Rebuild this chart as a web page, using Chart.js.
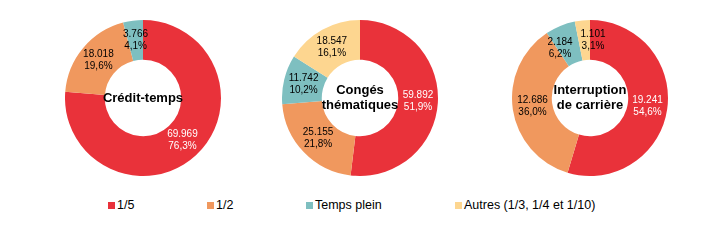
<!DOCTYPE html>
<html>
<head>
<meta charset="utf-8">
<script src="https://cdn.jsdelivr.net/npm/chart.js@4/dist/chart.umd.min.js"></script>
<style>
  html, body { margin: 0; padding: 0; background: #fff; }
  #wrap { position: relative; width: 725px; height: 241px; overflow: hidden; font-family: "Liberation Sans", Arial, sans-serif; }
  .pie { position: absolute; top: 20px; width: 156px; height: 156px; }
  .pie canvas { width: 156px !important; height: 156px !important; }
  .leg { position: absolute; top: 197px; font-size: 12.5px; color: #000; white-space: nowrap; line-height: 16px; }
  .leg i { display: inline-block; width: 7px; height: 7px; margin-right: 2px; vertical-align: 0px; }
</style>
</head>
<body>
<div id="wrap">
  <div class="pie" style="left:65px"><canvas id="c1"></canvas></div>
  <div class="pie" style="left:282px"><canvas id="c2"></canvas></div>
  <div class="pie" style="left:512px"><canvas id="c3"></canvas></div>
  <div id="legend"></div>
</div>
<script>
// ---- data ----
const categories = ["1/5", "1/2", "Temps plein", "Autres (1/3, 1/4 et 1/10)"];
const chartTitles = [["Crédit-temps"], ["Congés", "thématiques"], ["Interruption", "de carrière"]];
const creditTemps = [69969, 18018, 3766, 0];
const congesThematiques = [59892, 25155, 11742, 18547];
const interruptionCarriere = [19241, 12686, 2184, 1101];
const percentCreditTemps = ["76,3%", "19,6%", "4,1%", ""];
const percentConges = ["51,9%", "21,8%", "10,2%", "16,1%"];
const percentInterruption = ["54,6%", "36,0%", "6,2%", "3,1%"];

// ---- styles ----
const colors = ["#E9323A", "#F0985E", "#7EBFC0", "#FDD690"];
const legendX = [108, 207, 306, 455];

function fmt(n) {
  return String(n).replace(/\B(?=(\d{3})+(?!\d))/g, ".");
}

const labelPlugin = {
  id: "sliceLabels",
  afterDatasetsDraw(chart, args, opts) {
    const ctx = chart.ctx;
    const meta = chart.getDatasetMeta(0);
    const data = chart.data.datasets[0].data;
    const pcts = opts.percents;
    const cx = (chart.chartArea.left + chart.chartArea.right) / 2;
    const cy = (chart.chartArea.top + chart.chartArea.bottom) / 2;
    // label anchors at slice centroid (mid angle, mid radius)
    const labs = [];
    meta.data.forEach((arc, i) => {
      if (!data[i]) return;
      const pr = arc.getProps(["startAngle", "endAngle", "innerRadius", "outerRadius"], true);
      labs.push({ i: i, a: (pr.startAngle + pr.endAngle) / 2, r: (pr.innerRadius + pr.outerRadius) / 2 });
    });
    // simple collision avoidance: spread overlapping neighbouring labels apart
    const W = 32, H = 24;
    const pos = l => ({ x: cx + l.r * Math.cos(l.a), y: cy + l.r * Math.sin(l.a) });
    for (let it = 0; it < 60; it++) {
      let moved = false;
      for (let k = 0; k < labs.length; k++) {
        const A = labs[k], B = labs[(k + 1) % labs.length];
        if (A === B) continue;
        const pa = pos(A), pb = pos(B);
        if (Math.abs(pa.x - pb.x) < W && Math.abs(pa.y - pb.y) < H) {
          A.a -= 0.01; B.a += 0.01; moved = true;
        }
      }
      if (!moved) break;
    }
    ctx.save();
    ctx.font = "10px 'Liberation Sans', Arial, sans-serif";
    ctx.textAlign = "center";
    ctx.textBaseline = "middle";
    labs.forEach(l => {
      const p = pos(l);
      ctx.fillStyle = l.i === 0 ? "#ffffff" : "#000000";
      ctx.fillText(fmt(data[l.i]), p.x, p.y - 6);
      ctx.fillText(pcts[l.i], p.x, p.y + 6);
    });
    // center title
    const t = opts.title;
    ctx.font = "bold 13px 'Liberation Sans', Arial, sans-serif";
    ctx.fillStyle = "#000";
    const lh = 15;
    t.forEach((line, k) => {
      ctx.fillText(line, cx, cy + (k - (t.length - 1) / 2) * lh);
    });
    ctx.restore();
  }
};

function makeDonut(id, values, percents, title) {
  new Chart(document.getElementById(id), {
    type: "doughnut",
    data: {
      labels: categories,
      datasets: [{ data: values, backgroundColor: colors, borderWidth: 0, hoverOffset: 0 }]
    },
    options: {
      responsive: false,
      maintainAspectRatio: false,
      animation: false,
      cutout: "49%",
      layout: { padding: 0 },
      plugins: {
        legend: { display: false },
        tooltip: { enabled: false },
        sliceLabels: { percents: percents, title: title }
      }
    },
    plugins: [labelPlugin]
  });
}

["c1", "c2", "c3"].forEach(id => {
  const c = document.getElementById(id);
  c.width = 156; c.height = 156;
});
makeDonut("c1", creditTemps, percentCreditTemps, chartTitles[0]);
makeDonut("c2", congesThematiques, percentConges, chartTitles[1]);
makeDonut("c3", interruptionCarriere, percentInterruption, chartTitles[2]);

// legend
const lg = document.getElementById("legend");
categories.forEach((c, i) => {
  const d = document.createElement("div");
  d.className = "leg";
  d.style.left = legendX[i] + "px";
  d.innerHTML = '<i style="background:' + colors[i] + '"></i>' + c;
  lg.appendChild(d);
});
</script>
</body>
</html>
